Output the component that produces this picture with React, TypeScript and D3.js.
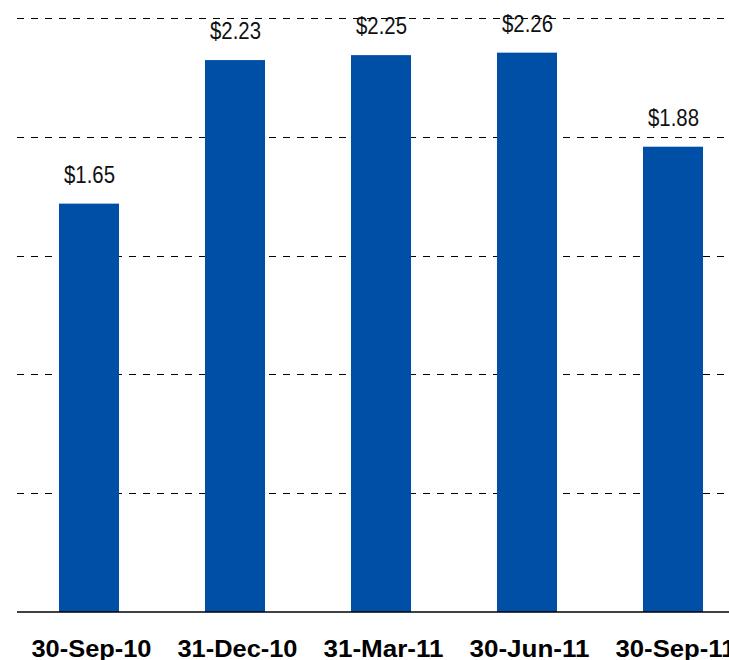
import React from "react";
import * as d3 from "d3";

const categories = ["30-Sep-10", "31-Dec-10", "31-Mar-11", "30-Jun-11", "30-Sep-11"];
const values = [1.65, 2.23, 2.25, 2.26, 1.88];
const valueLabels = ["$1.65", "$2.23", "$2.25", "$2.26", "$1.88"];
const yTicks = [0, 0.48, 0.96, 1.44, 1.92, 2.4];

const W = 729;
const H = 660;

export default function App() {
  const x = d3
    .scaleBand<string>()
    .domain(categories)
    .range([16, 746])
    .paddingInner(0.589)
    .paddingOuter(0.2945);
  const y = d3.scaleLinear().domain([0, 2.4]).range([612, 18]);
  const left = 17;

  return (
    <svg
      width={W}
      height={H}
      style={{ position: "absolute", left: 0, top: 0, background: "#fff" }}
    >
      <rect x={0} y={0} width={W} height={H} fill="#fff" />
      {yTicks.slice(1).map((t) => (
        <line
          key={t}
          x1={left}
          x2={W}
          y1={Math.round(y(t)) + 0.5}
          y2={Math.round(y(t)) + 0.5}
          stroke="#000"
          strokeWidth={1}
          strokeDasharray="7,7"
        />
      ))}
      {categories.map((c, i) => (
        <rect
          key={c}
          x={x(c)!}
          y={y(values[i])}
          width={x.bandwidth()}
          height={y(0) - y(values[i])}
          fill="#004FA6"
        />
      ))}
      <line x1={left} x2={W} y1={y(0)} y2={y(0)} stroke="#000" strokeWidth={1.5} />
      {categories.map((c, i) => (
        <text
          key={"v" + c}
          x={x(c)! + x.bandwidth() / 2 + 0.5}
          y={y(values[i]) - 21}
          textAnchor="middle"
          fontFamily="'Liberation Sans Narrow', 'Arial Narrow', 'Liberation Sans', sans-serif"
          fontSize={23}
          fill="#111"
          textLength={51}
          lengthAdjust="spacingAndGlyphs"
        >
          {valueLabels[i]}
        </text>
      ))}
      {categories.map((c) => (
        <text
          key={"c" + c}
          x={x(c)! + x.bandwidth() / 2 + 2.5}
          y={656.5}
          textAnchor="middle"
          fontFamily="'Liberation Sans', Arial, sans-serif"
          fontWeight="bold"
          fontSize={23}
          fill="#000"
          textLength={120}
          lengthAdjust="spacingAndGlyphs"
        >
          {c}
        </text>
      ))}
    </svg>
  );
}
